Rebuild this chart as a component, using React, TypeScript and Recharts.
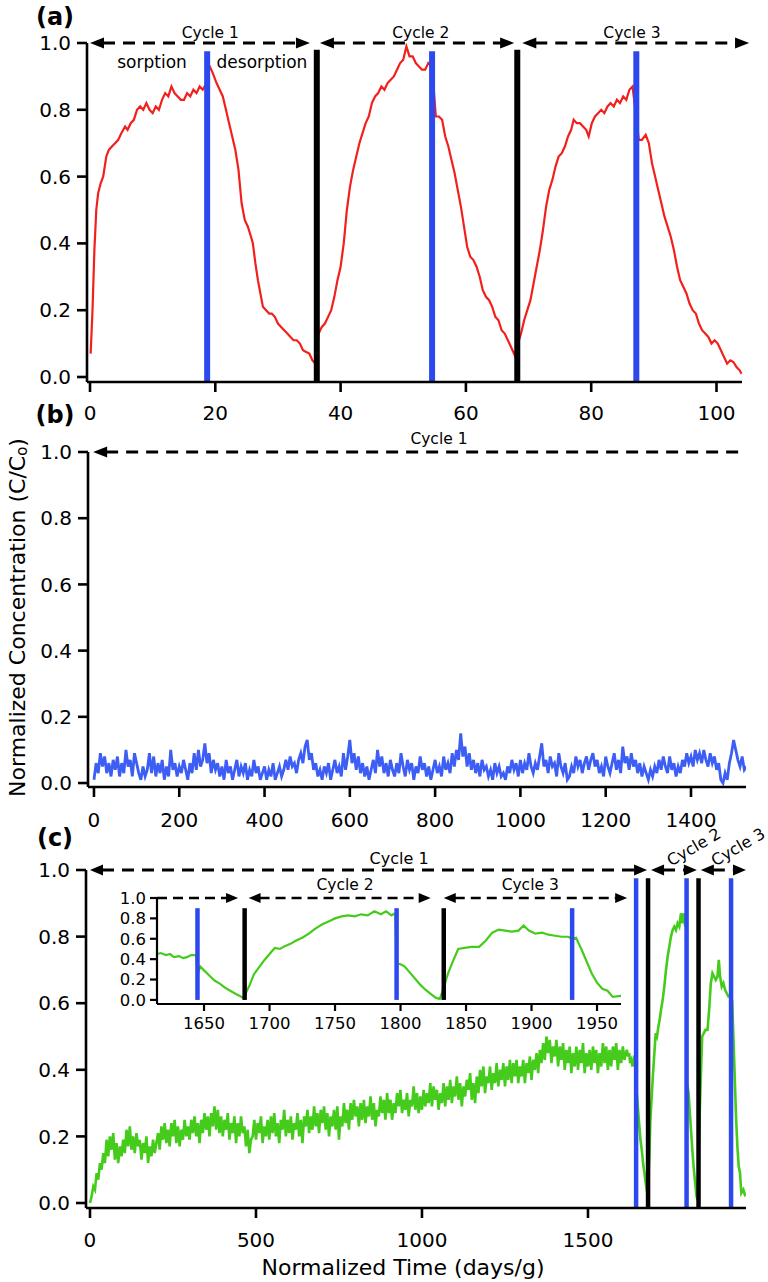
import React from 'react';
import { LineChart, Line, XAxis, YAxis, ReferenceLine, ReferenceDot } from 'recharts';

const FONT = '"DejaVu Sans", Verdana, sans-serif';

// ---------- Panel (a): red sorption/desorption curve ----------
const aRed: [number, number][] = [
  [0.1, 0.07], [0.4, 0.2], [0.7, 0.38], [1.0, 0.5], [1.3, 0.55], [1.7, 0.58], [2.1, 0.6], [2.6, 0.66], [3.0, 0.68],
  [3.5, 0.69], [4.0, 0.7], [4.5, 0.71], [5.0, 0.73], [5.6, 0.75], [6.0, 0.74], [6.5, 0.76], [7.0, 0.77], [7.5, 0.8],
  [8.0, 0.81], [8.5, 0.8], [9.0, 0.82], [9.5, 0.8], [10.0, 0.79], [10.5, 0.81], [11.0, 0.8], [11.5, 0.83], [12.0, 0.85],
  [12.5, 0.84], [13.0, 0.87], [13.5, 0.85], [14.0, 0.84], [14.5, 0.83], [15.0, 0.83], [15.5, 0.85], [16.0, 0.84],
  [16.5, 0.86], [17.0, 0.85], [17.5, 0.87], [18.0, 0.86], [18.6, 0.88], [19.1, 0.93], [19.6, 0.91], [20.2, 0.88],
  [20.7, 0.86], [21.2, 0.84], [21.7, 0.8], [22.2, 0.76], [22.7, 0.72], [23.2, 0.68], [23.7, 0.62], [24.2, 0.52],
  [24.7, 0.47], [25.2, 0.45], [25.7, 0.42], [26.0, 0.4], [26.4, 0.34], [26.8, 0.29], [27.2, 0.25], [27.6, 0.21],
  [28.1, 0.2], [28.6, 0.19], [29.0, 0.19], [29.5, 0.18], [30.0, 0.16], [30.5, 0.15], [31.0, 0.14], [31.5, 0.13],
  [32.0, 0.12], [32.5, 0.11], [33.0, 0.11], [33.5, 0.1], [34.0, 0.08], [34.5, 0.075], [35.0, 0.07], [35.5, 0.05],
  [36.0, 0.04], [36.5, 0.13], [37.0, 0.15], [37.5, 0.16], [38.0, 0.18], [38.5, 0.2], [39.0, 0.24], [39.5, 0.29],
  [40.0, 0.33], [40.5, 0.4], [41.0, 0.5], [41.5, 0.57], [42.0, 0.62], [42.5, 0.66], [43.0, 0.7], [43.5, 0.73],
  [44.0, 0.76], [44.5, 0.78], [45.0, 0.82], [45.5, 0.84], [46.0, 0.85], [46.5, 0.87], [47.0, 0.86], [47.5, 0.88],
  [48.0, 0.89], [48.5, 0.9], [49.0, 0.92], [49.5, 0.94], [50.0, 0.95], [50.5, 0.99], [51.0, 0.96], [51.5, 0.96],
  [52.0, 0.94], [52.5, 0.93], [53.0, 0.92], [53.5, 0.92], [54.0, 0.94], [54.6, 0.93], [55.2, 0.78], [55.7, 0.78],
  [56.2, 0.77], [56.7, 0.72], [57.2, 0.69], [57.7, 0.65], [58.2, 0.61], [58.7, 0.56], [59.2, 0.51], [59.7, 0.45],
  [60.2, 0.39], [60.7, 0.36], [61.2, 0.35], [61.7, 0.33], [62.2, 0.3], [62.7, 0.26], [63.2, 0.24], [63.7, 0.23],
  [64.2, 0.21], [64.7, 0.18], [65.2, 0.17], [65.7, 0.14], [66.2, 0.13], [66.7, 0.11], [67.2, 0.09], [67.8, 0.065],
  [68.3, 0.1], [68.8, 0.13], [69.3, 0.17], [69.8, 0.2], [70.3, 0.23], [70.8, 0.28], [71.3, 0.33], [71.8, 0.38],
  [72.3, 0.44], [72.8, 0.51], [73.3, 0.56], [73.8, 0.59], [74.3, 0.63], [74.8, 0.66], [75.3, 0.67], [75.8, 0.69],
  [76.3, 0.72], [76.8, 0.74], [77.2, 0.77], [77.7, 0.76], [78.2, 0.76], [78.7, 0.75], [79.2, 0.74], [79.6, 0.72],
  [80.1, 0.76], [80.6, 0.78], [81.1, 0.79], [81.6, 0.8], [82.1, 0.79], [82.6, 0.81], [83.1, 0.82], [83.6, 0.81],
  [84.1, 0.83], [84.6, 0.82], [85.1, 0.84], [85.6, 0.83], [86.1, 0.86], [86.6, 0.87], [87.6, 0.71], [88.1, 0.71],
  [88.7, 0.725], [89.2, 0.7], [89.7, 0.64], [90.2, 0.6], [90.7, 0.56], [91.2, 0.52], [91.7, 0.48], [92.2, 0.45],
  [92.7, 0.42], [93.2, 0.38], [93.7, 0.33], [94.2, 0.29], [94.7, 0.27], [95.2, 0.25], [95.7, 0.22], [96.2, 0.2],
  [96.7, 0.19], [97.2, 0.16], [97.7, 0.14], [98.2, 0.13], [98.7, 0.12], [99.2, 0.1], [99.7, 0.11], [100.2, 0.1],
  [100.7, 0.08], [101.2, 0.06], [101.7, 0.04], [102.2, 0.05], [102.7, 0.045], [103.2, 0.03], [103.7, 0.02], [104.0, 0.01],
];
const aBlueMarks = [18.7, 54.6, 87.2];
const aBlackMarks = [36.2, 68.2];
const aXTicks = [0, 20, 40, 60, 80, 100];
const aArrows = [
  { from: 0, to: 35.1, left: true, right: true, label: 'Cycle 1', labelX: 19.2 },
  { from: 36.7, to: 67.7, left: true, right: true, label: 'Cycle 2', labelX: 52.8 },
  { from: 69.0, to: 105.2, left: true, right: true, label: 'Cycle 3', labelX: 86.5 },
];
const aPhaseLabels = [
  { text: 'sorption', x: 9.9 },
  { text: 'desorption', x: 27.45 },
];

// ---------- Panel (b): blue curve ----------
const bBlue: [number, number][] = [
  [0, 0.01], [5, 0.06], [10, 0.03], [15, 0.09], [20, 0.05], [25, 0.08], [30, 0.03], [35, 0.06], [40, 0.02], [45, 0.07],
  [50, 0.04], [55, 0.08], [60, 0.02], [65, 0.06], [70, 0.03], [75, 0.1], [80, 0.05], [85, 0.07], [90, 0.02], [95, 0.09],
  [100, 0.06], [105, 0.03], [110, 0.01], [115, 0.05], [120, 0.02], [125, 0.04], [130, 0.09], [135, 0.03], [140, 0.08], [145, 0.02],
  [150, 0.06], [155, 0.03], [160, 0.07], [165, 0.01], [170, 0.05], [175, 0.02], [180, 0.1], [185, 0.04], [190, 0.06], [195, 0.02],
  [200, 0.05], [205, 0.03], [210, 0.07], [215, 0.04], [220, 0.01], [225, 0.06], [230, 0.03], [235, 0.09], [240, 0.04], [245, 0.1],
  [250, 0.05], [255, 0.07], [260, 0.12], [265, 0.06], [270, 0.09], [275, 0.03], [280, 0.07], [285, 0.04], [290, 0.06], [295, 0.02],
  [300, 0.05], [305, 0.01], [310, 0.07], [315, 0.03], [320, 0.05], [325, 0.01], [330, 0.04], [335, 0.07], [340, 0.02], [345, 0.05],
  [350, 0.03], [355, 0.06], [360, 0.01], [365, 0.04], [370, 0.02], [375, 0.07], [380, 0.03], [385, 0.05], [390, 0.01], [395, 0.03],
  [400, 0.05], [405, 0.01], [410, 0.04], [415, 0.02], [420, 0.06], [425, 0.01], [430, 0.03], [435, 0.05], [440, 0.02], [445, 0.04],
  [450, 0.07], [455, 0.04], [460, 0.08], [465, 0.05], [470, 0.06], [475, 0.03], [480, 0.07], [485, 0.09], [490, 0.06], [495, 0.11],
  [500, 0.13], [505, 0.07], [510, 0.09], [515, 0.04], [520, 0.06], [525, 0.02], [530, 0.04], [535, 0.01], [540, 0.05], [545, 0.03],
  [550, 0.06], [555, 0.01], [560, 0.04], [565, 0.07], [570, 0.03], [575, 0.05], [580, 0.02], [585, 0.09], [590, 0.04], [595, 0.08],
  [600, 0.13], [605, 0.06], [610, 0.09], [615, 0.04], [620, 0.08], [625, 0.03], [630, 0.06], [635, 0.02], [640, 0.05], [645, 0.01],
  [650, 0.04], [655, 0.07], [660, 0.03], [665, 0.1], [670, 0.05], [675, 0.08], [680, 0.03], [685, 0.06], [690, 0.02], [695, 0.07],
  [700, 0.04], [705, 0.02], [710, 0.06], [715, 0.03], [720, 0.09], [725, 0.05], [730, 0.02], [735, 0.07], [740, 0.04], [745, 0.06],
  [750, 0.01], [755, 0.05], [760, 0.03], [765, 0.08], [770, 0.04], [775, 0.06], [780, 0.02], [785, 0.05], [790, 0.01], [795, 0.04],
  [800, 0.07], [805, 0.03], [810, 0.05], [815, 0.02], [820, 0.08], [825, 0.04], [830, 0.06], [835, 0.03], [840, 0.09], [845, 0.05],
  [850, 0.1], [855, 0.07], [860, 0.15], [865, 0.08], [870, 0.11], [875, 0.05], [880, 0.09], [885, 0.04], [890, 0.07], [895, 0.03],
  [900, 0.06], [905, 0.02], [910, 0.07], [915, 0.04], [920, 0.05], [925, 0.02], [930, 0.04], [935, 0.01], [940, 0.06], [945, 0.03],
  [950, 0.05], [955, 0.02], [960, 0.03], [965, 0.01], [970, 0.05], [975, 0.03], [980, 0.07], [985, 0.04], [990, 0.06], [995, 0.02],
  [1000, 0.07], [1005, 0.03], [1010, 0.06], [1015, 0.04], [1020, 0.09], [1025, 0.05], [1030, 0.03], [1035, 0.06], [1040, 0.04], [1045, 0.08],
  [1050, 0.12], [1055, 0.05], [1060, 0.07], [1065, 0.03], [1070, 0.08], [1075, 0.05], [1080, 0.06], [1085, 0.02], [1090, 0.09], [1095, 0.05],
  [1100, 0.03], [1105, 0.06], [1110, 0.01], [1115, 0.02], [1120, 0.05], [1125, 0.03], [1130, 0.08], [1135, 0.05], [1140, 0.07], [1145, 0.03],
  [1150, 0.06], [1155, 0.08], [1160, 0.04], [1165, 0.07], [1170, 0.09], [1175, 0.05], [1180, 0.07], [1185, 0.03], [1190, 0.05], [1195, 0.02],
  [1200, 0.08], [1205, 0.05], [1210, 0.03], [1215, 0.06], [1220, 0.09], [1225, 0.04], [1230, 0.07], [1235, 0.03], [1240, 0.11], [1245, 0.06],
  [1250, 0.08], [1255, 0.04], [1260, 0.09], [1265, 0.05], [1270, 0.07], [1275, 0.03], [1280, 0.06], [1285, 0.02], [1290, 0.05], [1295, 0.03],
  [1300, 0.01], [1305, 0.04], [1310, 0.02], [1315, 0.05], [1320, 0.03], [1325, 0.07], [1330, 0.04], [1335, 0.08], [1340, 0.05], [1345, 0.03],
  [1350, 0.08], [1355, 0.04], [1360, 0.06], [1365, 0.02], [1370, 0.05], [1375, 0.03], [1380, 0.07], [1385, 0.05], [1390, 0.09], [1395, 0.06],
  [1400, 0.08], [1405, 0.05], [1410, 0.1], [1415, 0.07], [1420, 0.09], [1425, 0.06], [1430, 0.1], [1435, 0.07], [1440, 0.05], [1445, 0.09],
  [1450, 0.06], [1455, 0.08], [1460, 0.04], [1465, 0.06], [1470, 0.01], [1475, 0.0], [1480, 0.03], [1485, 0.01], [1490, 0.06], [1495, 0.09],
  [1500, 0.13], [1505, 0.1], [1510, 0.07], [1515, 0.05], [1520, 0.08], [1525, 0.04], [1530, 0.05],
];
const bXTicks = [0, 200, 400, 600, 800, 1000, 1200, 1400];

// ---------- Panel (c): green curve (main + inset) ----------
const cGreen: [number, number][] = [
  [0, 0.0], [5, 0.02], [10, 0.05], [15, 0.04], [20, 0.09], [25, 0.07], [30, 0.12], [35, 0.1], [40, 0.15], [45, 0.12],
  [50, 0.19], [55, 0.14], [60, 0.2], [65, 0.16], [70, 0.21], [75, 0.13], [80, 0.18], [85, 0.12], [90, 0.17], [95, 0.14],
  [100, 0.19], [105, 0.15], [110, 0.22], [115, 0.17], [120, 0.23], [125, 0.16], [130, 0.2], [135, 0.15], [140, 0.21], [145, 0.17],
  [150, 0.19], [155, 0.13], [160, 0.18], [165, 0.15], [170, 0.2], [175, 0.12], [180, 0.17], [185, 0.14], [190, 0.19], [195, 0.15],
  [200, 0.18], [205, 0.21], [210, 0.16], [215, 0.23], [220, 0.19], [225, 0.24], [230, 0.18], [235, 0.22], [240, 0.17], [245, 0.24],
  [250, 0.2], [255, 0.25], [260, 0.18], [265, 0.23], [270, 0.17], [275, 0.22], [280, 0.19], [285, 0.25], [290, 0.2], [295, 0.23],
  [300, 0.19], [305, 0.25], [310, 0.21], [315, 0.26], [320, 0.2], [325, 0.24], [330, 0.18], [335, 0.25], [340, 0.21], [345, 0.27],
  [350, 0.22], [355, 0.26], [360, 0.2], [365, 0.27], [370, 0.23], [375, 0.29], [380, 0.22], [385, 0.28], [390, 0.21], [395, 0.26],
  [400, 0.2], [405, 0.25], [410, 0.22], [415, 0.27], [420, 0.19], [425, 0.24], [430, 0.21], [435, 0.26], [440, 0.18], [445, 0.24],
  [450, 0.2], [455, 0.26], [460, 0.21], [465, 0.23], [470, 0.17], [475, 0.22], [480, 0.15], [485, 0.19], [490, 0.2], [495, 0.25],
  [500, 0.19], [505, 0.24], [510, 0.21], [515, 0.26], [520, 0.18], [525, 0.23], [530, 0.2], [535, 0.25], [540, 0.19], [545, 0.26],
  [550, 0.21], [555, 0.27], [560, 0.2], [565, 0.24], [570, 0.18], [575, 0.25], [580, 0.22], [585, 0.28], [590, 0.2], [595, 0.25],
  [600, 0.21], [605, 0.26], [610, 0.19], [615, 0.24], [620, 0.22], [625, 0.27], [630, 0.2], [635, 0.25], [640, 0.18], [645, 0.26],
  [650, 0.23], [655, 0.28], [660, 0.21], [665, 0.26], [670, 0.22], [675, 0.29], [680, 0.23], [685, 0.27], [690, 0.21], [695, 0.28],
  [700, 0.24], [705, 0.29], [710, 0.22], [715, 0.27], [720, 0.2], [725, 0.26], [730, 0.23], [735, 0.28], [740, 0.22], [745, 0.29],
  [750, 0.19], [755, 0.26], [760, 0.23], [765, 0.3], [770, 0.24], [775, 0.28], [780, 0.22], [785, 0.3], [790, 0.25], [795, 0.31],
  [800, 0.26], [805, 0.29], [810, 0.23], [815, 0.3], [820, 0.25], [825, 0.31], [830, 0.24], [835, 0.29], [840, 0.26], [845, 0.32],
  [850, 0.25], [855, 0.3], [860, 0.23], [865, 0.28], [870, 0.26], [875, 0.32], [880, 0.27], [885, 0.31], [890, 0.25], [895, 0.33],
  [900, 0.27], [905, 0.31], [910, 0.25], [915, 0.3], [920, 0.27], [925, 0.33], [930, 0.29], [935, 0.34], [940, 0.27], [945, 0.31],
  [950, 0.28], [955, 0.33], [960, 0.26], [965, 0.31], [970, 0.29], [975, 0.35], [980, 0.28], [985, 0.33], [990, 0.27], [995, 0.32],
  [1000, 0.28], [1005, 0.34], [1010, 0.29], [1015, 0.33], [1020, 0.3], [1025, 0.36], [1030, 0.29], [1035, 0.35], [1040, 0.31], [1045, 0.34],
  [1050, 0.28], [1055, 0.33], [1060, 0.3], [1065, 0.36], [1070, 0.29], [1075, 0.35], [1080, 0.31], [1085, 0.37], [1090, 0.3], [1095, 0.35],
  [1100, 0.32], [1105, 0.38], [1110, 0.31], [1115, 0.36], [1120, 0.29], [1125, 0.35], [1130, 0.32], [1135, 0.37], [1140, 0.34], [1145, 0.39],
  [1150, 0.31], [1155, 0.36], [1160, 0.3], [1165, 0.38], [1170, 0.33], [1175, 0.4], [1180, 0.35], [1185, 0.41], [1190, 0.33], [1195, 0.38],
  [1200, 0.36], [1205, 0.41], [1210, 0.34], [1215, 0.39], [1220, 0.36], [1225, 0.42], [1230, 0.35], [1235, 0.4], [1240, 0.37], [1245, 0.42],
  [1250, 0.35], [1255, 0.41], [1260, 0.37], [1265, 0.43], [1270, 0.36], [1275, 0.42], [1280, 0.38], [1285, 0.43], [1290, 0.36], [1295, 0.41],
  [1300, 0.38], [1305, 0.43], [1310, 0.36], [1315, 0.42], [1320, 0.39], [1325, 0.44], [1330, 0.37], [1335, 0.43], [1340, 0.4], [1345, 0.45],
  [1350, 0.39], [1355, 0.46], [1360, 0.42], [1365, 0.48], [1370, 0.43], [1375, 0.5], [1380, 0.45], [1385, 0.49], [1390, 0.42], [1395, 0.47],
  [1400, 0.44], [1405, 0.49], [1410, 0.41], [1415, 0.47], [1420, 0.43], [1425, 0.48], [1430, 0.4], [1435, 0.46], [1440, 0.42], [1445, 0.47],
  [1450, 0.39], [1455, 0.45], [1460, 0.41], [1465, 0.47], [1470, 0.4], [1475, 0.46], [1480, 0.42], [1485, 0.48], [1490, 0.39], [1495, 0.45],
  [1500, 0.41], [1505, 0.46], [1510, 0.4], [1515, 0.47], [1520, 0.42], [1525, 0.46], [1530, 0.39], [1535, 0.45], [1540, 0.41], [1545, 0.48],
  [1550, 0.42], [1555, 0.47], [1560, 0.4], [1565, 0.46], [1570, 0.41], [1575, 0.47], [1580, 0.43], [1585, 0.48], [1590, 0.4], [1595, 0.46],
  [1600, 0.42], [1605, 0.47], [1610, 0.43], [1614, 0.45], [1617, 0.46], [1621, 0.44], [1624, 0.45], [1627, 0.42], [1631, 0.43],
  [1634, 0.41], [1637, 0.42], [1640, 0.44], [1644, 0.44], [1645, 0.24], [1647, 0.33], [1650, 0.29], [1654, 0.24], [1658, 0.19],
  [1662, 0.16], [1666, 0.12], [1670, 0.09], [1674, 0.06], [1677, 0.04], [1680, 0.02], [1682, 0.07], [1685, 0.15], [1688, 0.25],
  [1692, 0.32], [1696, 0.39], [1700, 0.45], [1704, 0.51], [1708, 0.5], [1712, 0.53], [1716, 0.55], [1720, 0.58], [1725, 0.61],
  [1730, 0.65], [1735, 0.7], [1740, 0.74], [1745, 0.77], [1750, 0.8], [1755, 0.82], [1760, 0.83], [1765, 0.82], [1770, 0.84],
  [1775, 0.83], [1780, 0.87], [1785, 0.84], [1789, 0.87], [1793, 0.83], [1796, 0.85], [1797, 0.36], [1800, 0.35], [1803, 0.33],
  [1807, 0.27], [1811, 0.21], [1815, 0.15], [1819, 0.1], [1823, 0.06], [1827, 0.02], [1830, 0.01], [1833, 0.12], [1836, 0.25],
  [1840, 0.38], [1844, 0.5], [1849, 0.51], [1854, 0.52], [1860, 0.52], [1865, 0.58], [1870, 0.66], [1875, 0.69], [1880, 0.68],
  [1885, 0.67], [1890, 0.68], [1894, 0.73], [1898, 0.68], [1903, 0.65], [1908, 0.66], [1913, 0.64], [1918, 0.63], [1923, 0.62],
  [1928, 0.62], [1931, 0.6], [1934, 0.61], [1938, 0.5], [1942, 0.38], [1946, 0.26], [1950, 0.17], [1954, 0.11], [1958, 0.09],
  [1962, 0.03], [1968, 0.04], [1974, 0.02],
];
const cBlueMarks = [1645, 1797, 1931];
const cBlackMarks = [1681, 1833];
const cXTicks = [0, 500, 1000, 1500];
const insetXTicks = [1650, 1700, 1750, 1800, 1850, 1900, 1950];
const yTicks = [0, 0.2, 0.4, 0.6, 0.8, 1.0];

const cArrows = [
  { from: 0, to: 1678, left: true, right: true },
  { from: 1690, to: 1828, left: true, right: true },
  { from: 1840, to: 1976, left: true, right: true },
];
const cCycleLabels = [
  { text: 'Cycle 1', x: 931, y: 1.036, angle: 0 },
  { text: 'Cycle 2', x: 1819, y: 1.069, angle: -30 },
  { text: 'Cycle 3', x: 1952, y: 1.069, angle: -30 },
];
const insetArrows = [
  { from: 1614.1, to: 1676, left: false, right: true },
  { from: 1684, to: 1823, left: true, right: true },
  { from: 1833, to: 1973, left: true, right: true },
];
const insetLabels = [
  { text: 'Cycle 2', x: 1757.6 },
  { text: 'Cycle 3', x: 1899 },
];

const RED = '#f2201c';
const MARK_BLUE = '#2c49ef';
const B_BLUE = '#3d5ef5';
const GREEN = '#45cb1b';

const toRows = (pairs: [number, number][]) => pairs.map(([t, v]) => ({ t, v }));

function arrowShape(leftHead: boolean, rightHead: boolean, head: number, half: number, sw: number, dash: string) {
  return (p: any) => {
    const { x1, y1, x2 } = p;
    const xa = leftHead ? x1 + head - 1 : x1;
    const xb = rightHead ? x2 - head + 1 : x2;
    return (
      <g>
        <line x1={xa} y1={y1} x2={xb} y2={y1} stroke="#000" strokeWidth={sw} strokeDasharray={dash} />
        {leftHead && <polygon points={`${x1},${y1} ${x1 + head},${y1 - half} ${x1 + head},${y1 + half}`} fill="#000" />}
        {rightHead && <polygon points={`${x2},${y1} ${x2 - head},${y1 - half} ${x2 - head},${y1 + half}`} fill="#000" />}
      </g>
    );
  };
}

function textShape(text: string, size: number, angle = 0) {
  return (p: any) => (
    <text
      x={p.cx}
      y={p.cy}
      textAnchor="middle"
      dominantBaseline="central"
      fontSize={size}
      fontFamily={FONT}
      fill="#000"
      transform={angle ? `rotate(${angle} ${p.cx} ${p.cy})` : undefined}
    >
      {text}
    </text>
  );
}

const fmt1 = (v: number) => v.toFixed(1);

const axisCommon = {
  stroke: '#000',
  axisLine: { stroke: '#000', strokeWidth: 2.6 },
  tickLine: { stroke: '#000', strokeWidth: 2.6 },
};

function vMark(x: number, yMin: number, yMax: number, color: string, w: number, key: string) {
  return (
    <ReferenceLine
      key={key}
      segment={[{ x, y: yMin }, { x, y: yMax }]}
      stroke={color}
      strokeWidth={w}
      ifOverflow="visible"
    />
  );
}

const panelLabel = (text: string, cx: number, cy: number) => (
  <div
    style={{
      position: 'absolute',
      left: cx,
      top: cy,
      transform: 'translate(-50%, -50%)',
      fontFamily: FONT,
      fontSize: 24,
      fontWeight: 'bold',
      lineHeight: 1,
      color: '#000',
      whiteSpace: 'nowrap',
    }}
  >
    {text}
  </div>
);

export default function App() {
  const aMin = -0.015;
  const bMin = -0.012;
  const cMin = -0.015;
  const iMin = -0.04;

  const yTitle = (props: any) => {
    const vb = props.viewBox || { x: 0, y: 0, width: 0, height: 0 };
    const cx = vb.x + 17;
    const cy = vb.y + vb.height / 2 - 2;
    return (
      <text
        x={cx}
        y={cy}
        textAnchor="middle"
        dominantBaseline="central"
        fontSize={22}
        fontFamily={FONT}
        fill="#000"
        transform={`rotate(-90 ${cx} ${cy})`}
      >
        Normalized Concentration (C/C
        <tspan dy={5} fontSize={15}>o</tspan>
        <tspan dy={-5}>)</tspan>
      </text>
    );
  };

  const xTitle = (props: any) => {
    const vb = props.viewBox || { x: 0, y: 0, width: 0, height: 0 };
    return (
      <text
        x={vb.x + 317}
        y={vb.y + 59}
        textAnchor="middle"
        dominantBaseline="central"
        fontSize={22}
        fontFamily={FONT}
        fill="#000"
      >
        Normalized Time (days/g)
      </text>
    );
  };

  const tickStyle = { fill: '#000', fontSize: 20, fontFamily: FONT };
  const insetTick = { fill: '#000', fontSize: 16.5, fontFamily: FONT };

  return (
    <div style={{ position: 'absolute', left: 0, top: 0, width: 768, height: 1282, background: '#fff', overflow: 'hidden' }}>
      {/* Panel (a) */}
      <div style={{ position: 'absolute', left: 0, top: 0 }}>
        <LineChart width={768} height={430} margin={{ top: 43, right: 26, bottom: 0, left: 0 }}>
          <XAxis
            type="number"
            dataKey="t"
            domain={[-0.48, 104.07]}
            allowDataOverflow
            ticks={aXTicks}
            interval={0}
            tickSize={10}
            tickMargin={14}
            height={48}
            tick={tickStyle}
            {...axisCommon}
          />
          <YAxis
            type="number"
            domain={[aMin, 1]}
            allowDataOverflow
            ticks={yTicks}
            interval={0}
            tickFormatter={fmt1}
            tickSize={10}
            tickMargin={6}
            width={87}
            tick={tickStyle}
            {...axisCommon}
          />
          <Line data={toRows(aRed)} dataKey="v" type="linear" stroke={RED} strokeWidth={2.2} dot={false} activeDot={false} isAnimationActive={false} />
          {aBlueMarks.map((x, i) => vMark(x, aMin, 0.975, MARK_BLUE, 6, `ab${i}`))}
          {aBlackMarks.map((x, i) => vMark(x, aMin, 0.98, '#000', 6, `ak${i}`))}
          {aArrows.map((a, i) => (
            <ReferenceLine
              key={`aa${i}`}
              segment={[{ x: a.from, y: 1 }, { x: a.to, y: 1 }]}
              ifOverflow="visible"
              shape={arrowShape(a.left, a.right, 14, 5.5, 3, '12 8')}
            />
          ))}
          {aArrows.map((a, i) => (
            <ReferenceDot key={`al${i}`} x={a.labelX} y={1.03} r={0} ifOverflow="visible" shape={textShape(a.label, 15.5)} />
          ))}
          {aPhaseLabels.map((l, i) => (
            <ReferenceDot key={`ap${i}`} x={l.x} y={0.943} r={0} ifOverflow="visible" shape={textShape(l.text, 17)} />
          ))}
        </LineChart>
      </div>

      {/* Panel (b) */}
      <div style={{ position: 'absolute', left: 0, top: 430 }}>
        <LineChart width={768} height={405} margin={{ top: 22, right: 22, bottom: 0, left: 0 }}>
          <XAxis
            type="number"
            dataKey="t"
            domain={[-14, 1529]}
            allowDataOverflow
            ticks={bXTicks}
            interval={0}
            tickSize={10}
            tickMargin={16}
            height={48}
            tick={tickStyle}
            {...axisCommon}
          />
          <YAxis
            type="number"
            domain={[bMin, 1]}
            allowDataOverflow
            ticks={yTicks}
            interval={0}
            tickFormatter={fmt1}
            tickSize={10}
            tickMargin={6}
            width={88}
            tick={tickStyle}
            label={yTitle}
            {...axisCommon}
          />
          <Line data={toRows(bBlue)} dataKey="v" type="linear" stroke={B_BLUE} strokeWidth={2.8} dot={false} activeDot={false} isAnimationActive={false} />
          <ReferenceLine
            segment={[{ x: -2, y: 1 }, { x: 1519, y: 1 }]}
            ifOverflow="visible"
            shape={arrowShape(true, false, 14, 5.5, 3, '12 8')}
          />
          <ReferenceDot x={809} y={1.04} r={0} ifOverflow="visible" shape={textShape('Cycle 1', 15.5)} />
        </LineChart>
      </div>

      {/* Panel (c) */}
      <div style={{ position: 'absolute', left: 0, top: 812 }}>
        <LineChart width={768} height={470} margin={{ top: 58, right: 22, bottom: 0, left: 0 }}>
          <XAxis
            type="number"
            dataKey="t"
            domain={[-12, 1976]}
            allowDataOverflow
            ticks={cXTicks}
            interval={0}
            tickSize={10}
            tickMargin={15}
            height={74}
            tick={tickStyle}
            label={xTitle}
            {...axisCommon}
          />
          <YAxis
            type="number"
            domain={[cMin, 1]}
            allowDataOverflow
            ticks={yTicks}
            interval={0}
            tickFormatter={fmt1}
            tickSize={10}
            tickMargin={6}
            width={86}
            tick={tickStyle}
            {...axisCommon}
          />
          <Line data={toRows(cGreen)} dataKey="v" type="linear" stroke={GREEN} strokeWidth={2.6} dot={false} activeDot={false} isAnimationActive={false} />
          {cBlueMarks.map((x, i) => vMark(x, cMin, 0.975, MARK_BLUE, 4.5, `cb${i}`))}
          {cBlackMarks.map((x, i) => vMark(x, cMin, 0.975, '#000', 4.5, `ck${i}`))}
          {cArrows.map((a, i) => (
            <ReferenceLine
              key={`ca${i}`}
              segment={[{ x: a.from, y: 1 }, { x: a.to, y: 1 }]}
              ifOverflow="visible"
              shape={arrowShape(a.left, a.right, 13, 5.5, 3, '12 8')}
            />
          ))}
          {cCycleLabels.map((l, i) => (
            <ReferenceDot key={`cl${i}`} x={l.x} y={l.y} r={0} ifOverflow="visible" shape={textShape(l.text, 16, l.angle)} />
          ))}
        </LineChart>
      </div>

      {/* Inset of panel (c) */}
      <div style={{ position: 'absolute', left: 100, top: 870 }}>
        <LineChart width={545} height={170} margin={{ top: 28, right: 24, bottom: 0, left: 0 }}>
          <XAxis
            type="number"
            dataKey="t"
            domain={[1614.1, 1968.3]}
            allowDataOverflow
            ticks={insetXTicks}
            interval={0}
            tickSize={7}
            tickMargin={6}
            height={36}
            tick={insetTick}
            stroke="#000"
            axisLine={{ stroke: '#000', strokeWidth: 2.2 }}
            tickLine={{ stroke: '#000', strokeWidth: 2.2 }}
          />
          <YAxis
            type="number"
            domain={[iMin, 1]}
            allowDataOverflow
            ticks={yTicks}
            interval={0}
            tickFormatter={fmt1}
            tickSize={7}
            tickMargin={4}
            width={57}
            tick={insetTick}
            stroke="#000"
            axisLine={{ stroke: '#000', strokeWidth: 2.2 }}
            tickLine={{ stroke: '#000', strokeWidth: 2.2 }}
          />
          <Line data={toRows(cGreen)} dataKey="v" type="linear" stroke={GREEN} strokeWidth={2.2} dot={false} activeDot={false} isAnimationActive={false} />
          {cBlueMarks.map((x, i) => vMark(x, 0, 0.9, MARK_BLUE, 4.5, `ib${i}`))}
          {cBlackMarks.map((x, i) => vMark(x, 0, 0.9, '#000', 4.5, `ik${i}`))}
          {insetArrows.map((a, i) => (
            <ReferenceLine
              key={`ia${i}`}
              segment={[{ x: a.from, y: 1 }, { x: a.to, y: 1 }]}
              ifOverflow="visible"
              shape={arrowShape(a.left, a.right, 12, 5, 2.6, '10 6')}
            />
          ))}
          {insetLabels.map((l, i) => (
            <ReferenceDot key={`il${i}`} x={l.x} y={1.127} r={0} ifOverflow="visible" shape={textShape(l.text, 15.5)} />
          ))}
        </LineChart>
      </div>

      {panelLabel('(a)', 55, 17)}
      {panelLabel('(b)', 55, 415)}
      {panelLabel('(c)', 55, 838)}
    </div>
  );
}
